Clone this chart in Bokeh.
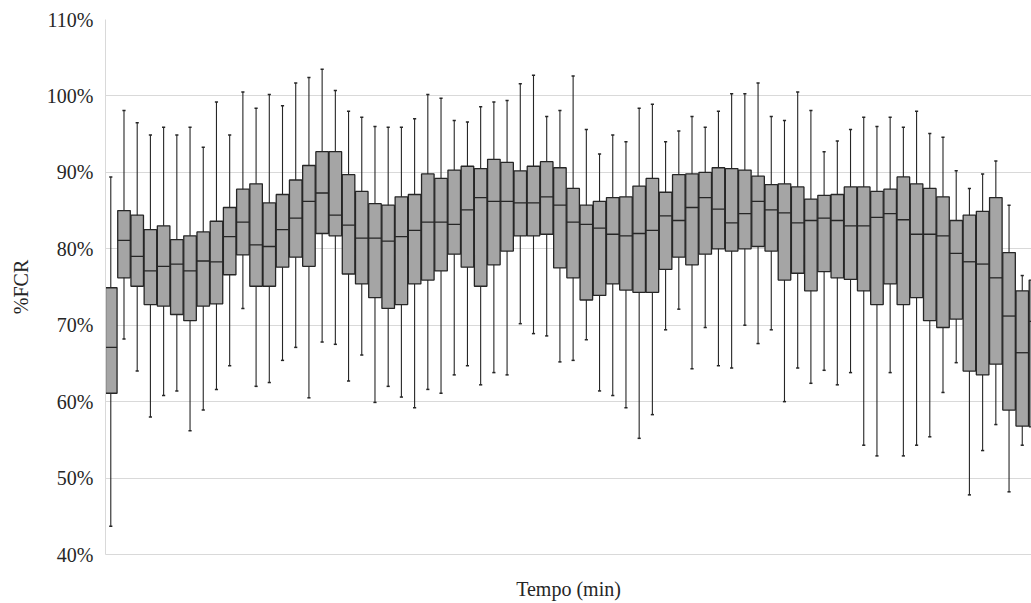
from bokeh.plotting import figure
from bokeh.models import Range1d, FixedTicker, PrintfTickFormatter, ColumnDataSource
from bokeh.embed import file_html
from bokeh.resources import INLINE

minutes = list(range(1, 72))
whisker_hi = [89.4, 98.1, 96.5, 94.9, 95.9, 94.9, 95.9, 93.3, 99.2, 94.9,
              100.5, 98.4, 100.2, 98.7, 101.7, 102.4, 103.5, 100.7, 98.0, 97.2,
              96.0, 95.9, 95.9, 97.0, 100.2, 99.7, 96.8, 96.6, 98.6, 99.2,
              99.4, 101.6, 102.7, 97.3, 98.1, 102.6, 95.6, 92.4, 94.9, 94.0,
              98.4, 98.9, 94.0, 95.4, 97.3, 95.9, 98.0, 100.3, 100.3, 101.7,
              97.3, 96.8, 100.5, 98.1, 92.7, 94.1, 95.6, 97.2, 96.0, 97.2,
              95.9, 98.0, 95.1, 94.6, 90.2, 87.9, 89.8, 91.5, 85.7, 76.5, 80.0]
q3 = [74.9, 85.0, 84.4, 82.5, 83.0, 81.2, 81.7, 82.2, 83.6, 85.4,
      87.8, 88.5, 86.0, 87.1, 89.0, 90.9, 92.7, 92.7, 89.7, 87.5,
      85.9, 85.7, 86.8, 87.1, 89.8, 89.2, 90.3, 90.8, 90.5, 91.7,
      91.3, 90.2, 90.8, 91.4, 90.6, 87.9, 85.7, 86.2, 86.7, 86.8,
      88.2, 89.2, 87.4, 89.7, 89.8, 90.0, 90.6, 90.5, 90.3, 89.5,
      88.4, 88.5, 88.1, 86.5, 87.0, 87.1, 88.1, 88.1, 87.5, 87.8,
      89.4, 88.5, 87.9, 86.8, 83.7, 84.4, 84.9, 86.7, 79.5, 74.5, 75.9]
median = [67.1, 81.1, 79.0, 77.1, 77.7, 78.0, 77.1, 78.4, 78.3, 81.6,
          83.5, 80.5, 80.3, 82.5, 84.0, 86.2, 87.3, 84.4, 83.1, 81.4,
          81.4, 81.0, 81.6, 82.4, 83.5, 83.5, 83.2, 85.1, 86.7, 86.2,
          86.2, 86.0, 86.0, 86.8, 85.7, 83.5, 83.2, 82.7, 81.9, 81.7,
          82.0, 82.4, 84.3, 83.7, 85.4, 86.7, 85.2, 83.4, 84.6, 86.2,
          85.1, 84.7, 83.4, 83.7, 84.0, 83.7, 83.0, 83.0, 84.1, 84.6,
          83.8, 81.9, 81.9, 81.7, 79.4, 78.3, 78.0, 76.2, 71.2, 66.4, 70.5]
q1 = [61.1, 76.2, 75.1, 72.7, 72.5, 71.4, 70.6, 72.5, 72.8, 76.6,
      79.2, 75.1, 75.1, 77.6, 78.9, 77.7, 82.0, 81.7, 76.7, 75.4,
      73.6, 72.2, 72.7, 75.4, 75.9, 77.1, 79.3, 77.6, 75.1, 77.9,
      79.7, 81.7, 81.7, 81.9, 77.5, 76.2, 73.3, 73.9, 75.4, 74.6,
      74.3, 74.3, 77.3, 78.9, 77.9, 79.3, 80.0, 79.7, 80.0, 80.3,
      79.7, 75.9, 76.8, 74.5, 77.0, 76.2, 76.0, 74.5, 72.7, 75.4,
      72.7, 73.6, 70.6, 69.7, 70.8, 64.0, 63.5, 64.9, 58.9, 56.8, 56.7]
whisker_lo = [43.7, 68.2, 64.0, 58.0, 60.8, 61.4, 56.2, 58.9, 61.6, 64.7,
              72.2, 62.0, 62.5, 65.4, 67.1, 60.5, 67.8, 67.5, 62.7, 66.1,
              59.9, 62.0, 60.6, 59.2, 61.6, 61.1, 63.5, 64.7, 62.2, 63.8,
              63.5, 70.2, 68.9, 68.6, 65.2, 65.4, 68.1, 61.4, 60.8, 59.2,
              55.2, 58.3, 69.4, 72.1, 64.3, 69.7, 64.7, 64.4, 70.0, 67.6,
              69.4, 60.0, 64.4, 62.4, 64.1, 62.2, 63.8, 54.3, 52.9, 63.8,
              52.9, 54.3, 55.4, 61.2, 65.1, 47.8, 53.6, 57.0, 48.2, 54.3, 50.0]
y_ticks = [40, 50, 60, 70, 80, 90, 100, 110]

box_w = 0.95
cap_w = 0.24
src = ColumnDataSource(dict(
    x=minutes, hi=whisker_hi, q3=q3, med=median, q1=q1, lo=whisker_lo,
    xl=[m - box_w / 2 for m in minutes], xr=[m + box_w / 2 for m in minutes],
    cl=[m - cap_w / 2 for m in minutes], cr=[m + cap_w / 2 for m in minutes],
))

p = figure(width=1031, height=603, output_backend="svg", toolbar_location=None,
           x_range=Range1d(0.6, 70.7), y_range=Range1d(40, 110),
           min_border_left=105, min_border_right=0, min_border_top=19,
           min_border_bottom=49)
p.outline_line_color = None
p.background_fill_color = "white"

dark = "#262626"
# whiskers
p.segment(x0="x", x1="x", y0="lo", y1="hi", source=src, line_color=dark, line_width=1.1)
p.segment(x0="cl", x1="cr", y0="hi", y1="hi", source=src, line_color=dark, line_width=1.5)
p.segment(x0="cl", x1="cr", y0="lo", y1="lo", source=src, line_color=dark, line_width=1.5)
# boxes
p.vbar(x="x", width=box_w, top="q3", bottom="q1", source=src,
       fill_color="#A5A5A5", line_color=dark, line_width=1.3)
p.segment(x0="xl", x1="xr", y0="med", y1="med", source=src, line_color=dark, line_width=1.3)

font = "Liberation Serif"
p.xgrid.grid_line_color = None
p.ygrid.grid_line_color = "#D9D9D9"
p.ygrid.grid_line_width = 1
p.ygrid.ticker = FixedTicker(ticks=y_ticks)

ya = p.yaxis[0]
ya.ticker = FixedTicker(ticks=y_ticks)
ya.formatter = PrintfTickFormatter(format="%d%%")
ya.major_tick_line_color = None
ya.minor_tick_line_color = None
ya.major_tick_out = 0
ya.axis_line_color = "#D9D9D9"
ya.major_label_text_font = font
ya.major_label_text_font_size = "20px"
ya.major_label_text_color = dark
ya.major_label_standoff = 12
ya.axis_label = "%FCR"
ya.axis_label_text_font = font
ya.axis_label_text_font_size = "20px"
ya.axis_label_text_font_style = "normal"
ya.axis_label_text_color = dark
ya.axis_label_standoff = 12

xa = p.xaxis[0]
xa.ticker = FixedTicker(ticks=[])
xa.major_tick_line_color = None
xa.minor_tick_line_color = None
xa.major_tick_out = 0
xa.major_label_text_font_size = "0px"
xa.axis_line_color = "#D9D9D9"
xa.axis_label = "Tempo (min)"
xa.axis_label_text_font = font
xa.axis_label_text_font_size = "20px"
xa.axis_label_text_font_style = "normal"
xa.axis_label_text_color = dark
xa.axis_label_standoff = 23

open("out.html", "w").write(file_html(p, INLINE))
